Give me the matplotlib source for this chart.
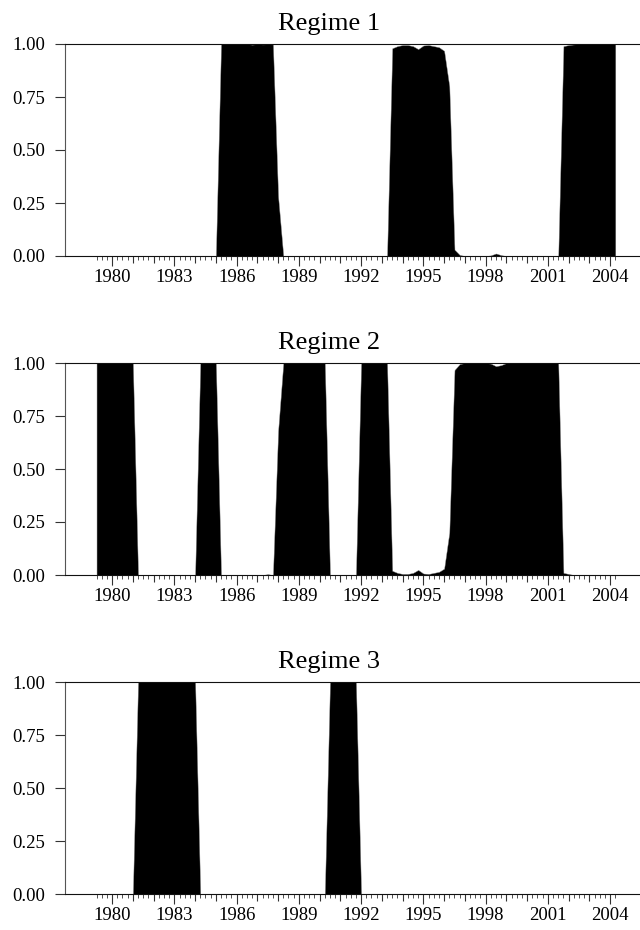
"""
smoothed regime probabilities, three panels
"""

import matplotlib
matplotlib.use("Agg")
from matplotlib import pyplot as plt
from matplotlib.ticker import FixedLocator, FuncFormatter
import pandas as pd

# quarterly sample 1979Q2 .. 2004Q2
quarters = pd.period_range("1979Q2", "2004Q2", freq="Q")

regime_1 = [
    0, 0, 0,                      # 1979
    0, 0, 0, 0,                   # 1980
    0, 0, 0, 0,                   # 1981
    0, 0, 0, 0,                   # 1982
    0, 0, 0, 0,                   # 1983
    0, 0, 0, 0,                   # 1984
    0, 1.0, 0.999, 1.0,           # 1985
    1.0, 0.999, 1.0, 0.997,       # 1986
    1.0, 0.998, 0.999, 0.998,     # 1987
    0.28, 0, 0, 0,                # 1988
    0, 0, 0, 0,                   # 1989
    0, 0, 0, 0,                   # 1990
    0, 0, 0, 0,                   # 1991
    0, 0, 0, 0,                   # 1992
    0, 0, 0.98, 0.99,             # 1993
    0.995, 0.995, 0.99, 0.976,    # 1994
    0.993, 0.995, 0.99, 0.985,    # 1995
    0.968, 0.80, 0.03, 0.005,     # 1996
    0, 0, 0, 0,                   # 1997
    0, 0.003, 0.012, 0.004,       # 1998
    0, 0, 0, 0,                   # 1999
    0, 0, 0, 0,                   # 2000
    0, 0, 0, 0.99,                # 2001
    0.995, 0.998, 1.0, 1.0,       # 2002
    1.0, 1.0, 1.0, 1.0,           # 2003
    1.0, 1.0,                     # 2004
]

regime_2 = [
    1.0, 1.0, 1.0,                # 1979
    1.0, 1.0, 1.0, 1.0,           # 1980
    1.0, 0, 0, 0,                 # 1981
    0, 0, 0, 0,                   # 1982
    0, 0, 0, 0,                   # 1983
    0, 1.0, 1.0, 1.0,             # 1984
    1.0, 0, 0, 0,                 # 1985
    0, 0, 0, 0,                   # 1986
    0, 0, 0.004, 0,               # 1987
    0.68, 1.0, 1.0, 1.0,          # 1988
    1.0, 1.0, 1.0, 1.0,           # 1989
    1.0, 1.0, 0, 0,               # 1990
    0, 0, 0, 0,                   # 1991
    1.0, 1.0, 1.0, 1.0,           # 1992
    1.0, 1.0, 0.02, 0.01,         # 1993
    0.005, 0.005, 0.01, 0.024,    # 1994
    0.007, 0.005, 0.01, 0.015,    # 1995
    0.03, 0.20, 0.967, 0.995,     # 1996
    1.0, 1.0, 1.0, 1.0,           # 1997
    1.0, 0.997, 0.985, 0.99,      # 1998
    1.0, 1.0, 1.0, 1.0,           # 1999
    1.0, 1.0, 1.0, 1.0,           # 2000
    1.0, 1.0, 1.0, 0.01,          # 2001
    0.005, 0, 0, 0,               # 2002
    0, 0, 0, 0,                   # 2003
    0, 0,                         # 2004
]

regime_3 = [
    0, 0, 0,                      # 1979
    0, 0, 0, 0,                   # 1980
    0, 1.0, 1.0, 1.0,             # 1981
    1.0, 1.0, 1.0, 1.0,           # 1982
    1.0, 1.0, 1.0, 1.0,           # 1983
    1.0, 0, 0, 0,                 # 1984
    0, 0, 0, 0,                   # 1985
    0, 0, 0, 0,                   # 1986
    0, 0, 0, 0,                   # 1987
    0, 0, 0, 0,                   # 1988
    0, 0, 0, 0,                   # 1989
    0, 0, 1.0, 1.0,               # 1990
    1.0, 1.0, 1.0, 1.0,           # 1991
    0, 0, 0, 0,                   # 1992
    0, 0, 0, 0,                   # 1993
    0, 0, 0, 0,                   # 1994
    0, 0, 0, 0,                   # 1995
    0, 0, 0, 0,                   # 1996
    0, 0, 0, 0,                   # 1997
    0, 0, 0, 0,                   # 1998
    0, 0, 0, 0,                   # 1999
    0, 0, 0, 0,                   # 2000
    0, 0, 0, 0,                   # 2001
    0, 0, 0, 0,                   # 2002
    0, 0, 0, 0,                   # 2003
    0, 0,                         # 2004
]

titles = ["Regime 1", "Regime 2", "Regime 3"]
y_ticks = [0.0, 0.25, 0.5, 0.75, 1.0]
year_ticks = list(range(1980, 2005))
label_years = [1980, 1983, 1986, 1989, 1992, 1995, 1998, 2001, 2004]


def main():
    plt.rcParams['font.family'] = ['Liberation Serif', 'DejaVu Serif']

    x = list(quarters.year + (quarters.quarter - 1) / 4)

    fig = plt.figure(figsize=(6.4, 9.3), dpi=100)

    # axes boxes in pixels (top, bottom) of a 640x930 canvas
    boxes = [(44, 256), (363, 575), (682, 894)]
    left_px = 65

    for series, title, (top, bot) in zip([regime_1, regime_2, regime_3], titles, boxes):
        ax = fig.add_axes([left_px / 640, 1 - bot / 930,
                           1 - left_px / 640, (bot - top) / 930])

        ax.fill_between(x, 0, series, facecolor='black', edgecolor='#888888',
                        linewidth=0.3)

        ax.set_ylim(0, 1)
        ax.set_xlim(1977.73, 2005.44)

        ax.spines['right'].set_visible(False)
        ax.spines['left'].set_color('#555555')
        ax.spines['top'].set_color('#111111')
        ax.spines['bottom'].set_color('#111111')

        ax.set_yticks(y_ticks)
        ax.yaxis.set_major_formatter(FuncFormatter(lambda v, p: f"{v:.2f}"))
        ax.tick_params(axis='y', direction='out', length=7, pad=7,
                       labelsize=13.5, color='#333333')

        ax.xaxis.set_major_locator(FixedLocator(year_ticks))
        ax.xaxis.set_minor_locator(FixedLocator(x))
        ax.xaxis.set_major_formatter(
            FuncFormatter(lambda v, p: str(int(round(v))) if int(round(v)) in label_years else ""))
        ax.tick_params(axis='x', which='major', direction='out', length=7.5,
                       pad=2, labelsize=13.5, color='#333333')
        ax.tick_params(axis='x', which='minor', direction='out', length=3,
                       color='#333333')

        # unlabeled years get a shorter tick
        for tick, loc in zip(ax.xaxis.get_major_ticks(), ax.xaxis.get_majorticklocs()):
            if int(round(loc)) not in label_years:
                tick.tick1line.set_markersize(5)

        ax.set_title(title, fontsize=19, x=(329 - left_px) / (640 - left_px), pad=10)

    plt.savefig("out.png", dpi=100)


if __name__ == '__main__':
    main()
